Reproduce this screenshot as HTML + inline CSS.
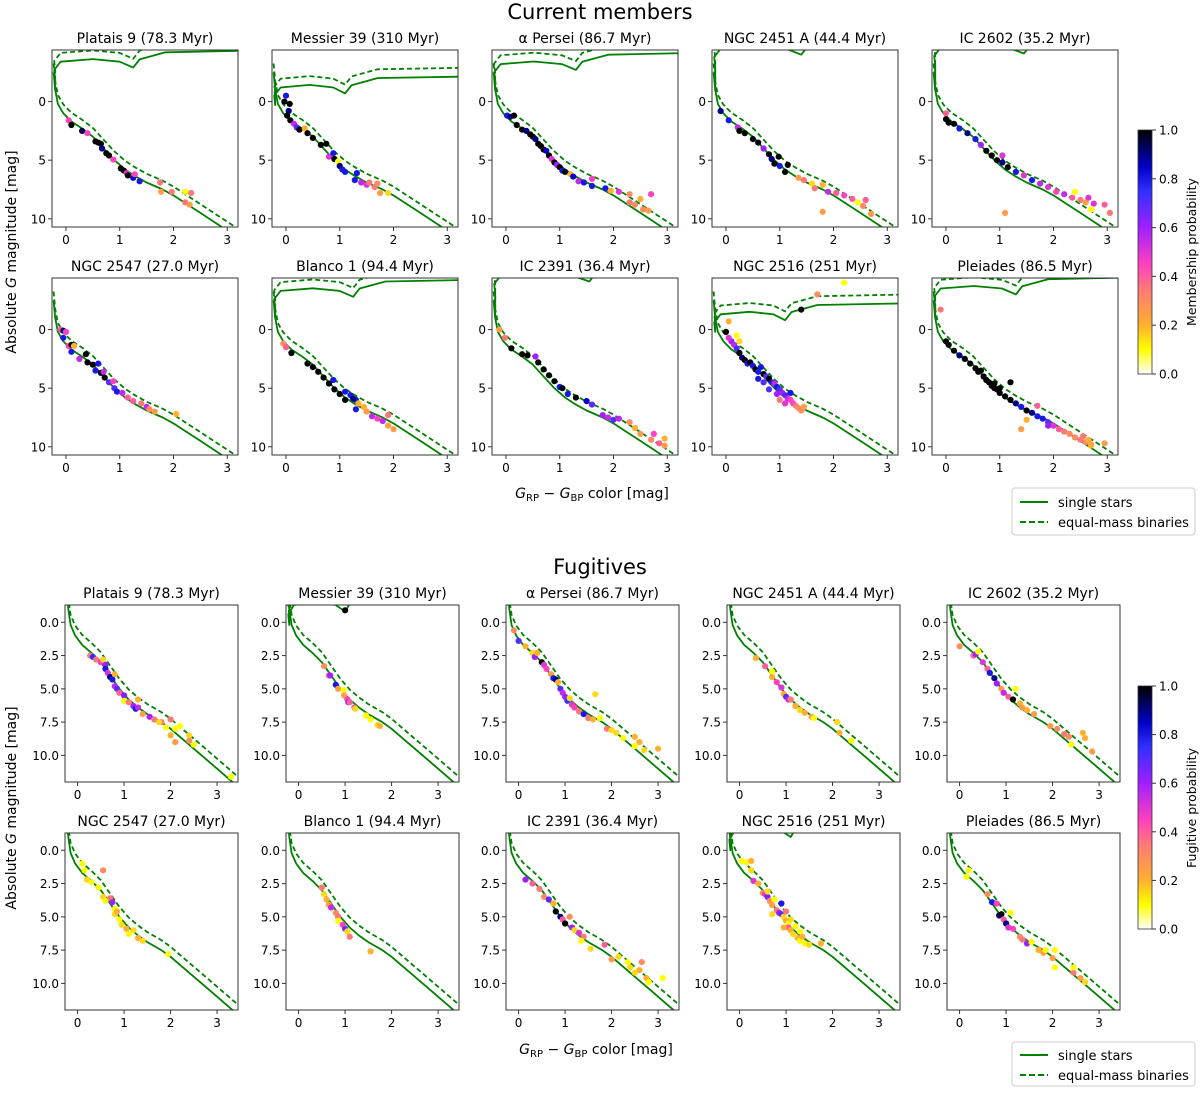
<!DOCTYPE html>
<html><head><meta charset="utf-8"><style>
html,body{margin:0;padding:0;background:#fff;}
svg text{font-family:"DejaVu Sans","Liberation Sans",sans-serif;fill:#000;}
</style></head><body>
<svg id="fig" xmlns="http://www.w3.org/2000/svg" width="1200" height="1089" viewBox="0 0 1200 1089">
<defs>
<linearGradient id="cmap" x1="0" y1="1" x2="0" y2="0">
<stop offset="0" stop-color="#ffffff"/><stop offset="0.1" stop-color="#ffff00"/><stop offset="0.2" stop-color="#ffb030"/>
<stop offset="0.35" stop-color="#ff7878"/><stop offset="0.45" stop-color="#ff40c0"/><stop offset="0.6" stop-color="#a020ff"/>
<stop offset="0.75" stop-color="#3030ff"/><stop offset="0.85" stop-color="#0000c8"/><stop offset="1" stop-color="#000000"/>
</linearGradient>
</defs>
<text x="600" y="19" text-anchor="middle" font-size="21">Current members</text>
<text x="600" y="574" text-anchor="middle" font-size="21">Fugitives</text>
<text transform="translate(16,252) rotate(-90)" text-anchor="middle" font-size="14">Absolute <tspan font-style="italic">G</tspan> magnitude [mag]</text>
<text transform="translate(16,808) rotate(-90)" text-anchor="middle" font-size="14">Absolute <tspan font-style="italic">G</tspan> magnitude [mag]</text>
<text x="592" y="498" text-anchor="middle" font-size="14"><tspan font-style="italic">G</tspan><tspan font-size="10" dy="3">RP</tspan><tspan dy="-3"> − </tspan><tspan font-style="italic">G</tspan><tspan font-size="10" dy="3">BP</tspan><tspan dy="-3"> color [mag]</tspan></text>
<text x="596" y="1054" text-anchor="middle" font-size="14"><tspan font-style="italic">G</tspan><tspan font-size="10" dy="3">RP</tspan><tspan dy="-3"> − </tspan><tspan font-style="italic">G</tspan><tspan font-size="10" dy="3">BP</tspan><tspan dy="-3"> color [mag]</tspan></text>
<g id="panels"></g>
<g>
<rect x="1138" y="130" width="14" height="244" fill="url(#cmap)" stroke="#333" stroke-width="0.8"/>
<text transform="translate(1196,252) rotate(-90)" text-anchor="middle" font-size="12.5">Membership probability</text>
</g>
<g>
<rect x="1138" y="686" width="14" height="243" fill="url(#cmap)" stroke="#333" stroke-width="0.8"/>
<text transform="translate(1196,808) rotate(-90)" text-anchor="middle" font-size="12.5">Fugitive probability</text>
</g>
<g id="cbticks"></g>
<g>
<rect x="1012" y="488" width="183" height="47" rx="3" fill="#fff" stroke="#ccc"/>
<line x1="1020" y1="502" x2="1048" y2="502" stroke="green" stroke-width="2"/>
<text x="1058" y="507" font-size="13">single stars</text>
<line x1="1020" y1="522" x2="1048" y2="522" stroke="green" stroke-width="2" stroke-dasharray="6,3"/>
<text x="1058" y="527" font-size="13">equal-mass binaries</text>
</g>
<g>
<rect x="1012" y="1042" width="183" height="44" rx="3" fill="#fff" stroke="#ccc"/>
<line x1="1020" y1="1055" x2="1048" y2="1055" stroke="green" stroke-width="2"/>
<text x="1058" y="1060" font-size="13">single stars</text>
<line x1="1020" y1="1075" x2="1048" y2="1075" stroke="green" stroke-width="2" stroke-dasharray="6,3"/>
<text x="1058" y="1080" font-size="13">equal-mass binaries</text>
</g>
</svg>
<script>
const titles=["Platais 9 (78.3 Myr)","Messier 39 (310 Myr)","\u03b1 Persei (86.7 Myr)","NGC 2451 A (44.4 Myr)","IC 2602 (35.2 Myr)","NGC 2547 (27.0 Myr)","Blanco 1 (94.4 Myr)","IC 2391 (36.4 Myr)","NGC 2516 (251 Myr)","Pleiades (86.5 Myr)"];
const msColor=[-0.23,-0.2,-0.15,-0.05,0.1,0.3,0.5,0.7,0.9,1.1,1.3,1.5,1.8,2.0,2.2,2.5,2.8,3.1,3.5];
const msMag=[-2.5,-1,0.2,1.0,1.7,2.3,3.0,4.0,5.0,5.8,6.4,6.9,7.5,8.0,8.6,9.5,10.4,11.3,12.5];
const binaryOffset=0.75;
const memberXTicks=[0,1,2,3];
const memberYTicks=[0,5,10];
const fugXTicks=[0,1,2,3];
const fugYTicks=[0,2.5,5,7.5,10];
const cbTicks=[0,0.2,0.4,0.6,0.8,1.0];
const memberDips=[[1.25,-2.9],[1.1,-0.7],[1.3,-2.7],[1.4,-4.0],[1.45,-4.1],null,[1.25,-2.8],[1.55,-4.1],[1.1,-0.8],[1.3,-3.0]];
const fugDips=[null,[1.0,-0.8],null,null,null,null,null,null,[1.1,-1.0],null];
const members=[
[[0.05,1.6,.45],[0.1,2,1],[0.3,2.5,.95],[0.4,2.7,.45],[0.55,3.4,1],[0.6,3.5,1],[0.65,3.6,1],[0.67,4,.9],[0.75,4.4,1],[0.8,4.6,1],[0.88,4.95,.45],[1.02,5.7,1],[1.08,5.9,1],[1.13,6.1,.5],[1.15,6.3,1],[1.25,6.5,.85],[1.28,6.2,.45],[1.37,6.8,.8],[1.75,6.9,.35],[1.77,7.7,.25],[1.97,7.7,.35],[2.22,7.7,.1],[2.33,7.8,.35],[2.22,8.6,.35],[2.3,8.8,.25]],
[[-0.03,0,1],[0,-0.5,.8],[0.07,0.2,1],[0.05,0.8,.9],[0.02,1.2,1],[0.08,1.6,1],[0.15,1.9,.55],[0.2,2.2,.7],[0.25,2.4,1],[0.35,2.3,.2],[0.4,2.7,1],[0.5,3.1,1],[0.65,3.7,1],[0.75,3.6,1],[0.8,4.7,.5],[0.88,4.4,.8],[0.9,4.9,1],[0.97,5.1,.1],[1.0,5.5,.9],[1.05,5.8,.8],[1.1,6,.8],[1.32,6.1,.8],[1.28,6.7,.8],[1.4,6.9,.55],[1.5,7.1,.5],[1.55,6.9,.35],[1.65,7.3,.35],[1.7,7,.3],[1.75,7.8,.25],[1.9,7.8,.15]],
[[0.02,1.2,.8],[0.08,1.3,.9],[0.15,1.2,1],[0.2,2,1],[0.3,2.4,1],[0.38,2.5,.9],[0.45,2.8,1],[0.5,3.0,1],[0.55,3.2,.9],[0.6,3.6,1],[0.65,3.8,1],[0.7,4.1,1],[0.75,4.2,.85],[0.8,4.6,1],[0.85,4.9,.5],[0.9,5.2,1],[0.95,5.4,.6],[1.0,5.6,1],[1.05,5.9,.8],[1.1,6.0,1],[1.2,6.2,.2],[1.25,6.4,.85],[1.35,6.8,.55],[1.45,6.9,.8],[1.6,7.2,.8],[1.6,6.6,.45],[1.85,7.4,.8],[1.95,7.6,.2],[2.1,7.7,.5],[2.3,8.6,.35],[2.3,7.9,.3],[2.4,8.8,.3],[2.5,8.3,.2],[2.55,9.2,.3],[2.7,7.9,.45],[2.65,9.3,.25]],
[[-0.1,0.8,.9],[0.05,1.6,.8],[0.22,2.2,.55],[0.25,2.5,1],[0.35,2.7,1],[0.5,3.2,1],[0.6,3.5,1],[0.7,4,.6],[0.8,4.5,1],[0.85,4.9,.9],[0.9,5.3,1],[1.0,5.5,.8],[1.1,6.0,1],[1.15,5.4,1],[0.98,4.7,1],[1.35,6.5,.25],[1.45,6.7,.35],[1.6,7,.15],[1.65,7.4,.35],[1.8,7.1,.2],[1.9,7.7,.55],[2.05,7.8,.4],[2.2,8.0,.45],[2.35,8.3,.4],[2.45,8.6,.1],[2.55,8.9,.3],[2.6,8.4,.4],[2.7,9.6,.25],[1.8,9.4,.25]],
[[0,1,.4],[0,1.5,1],[0.05,1.8,1],[0.15,1.9,1],[0.25,2.3,.8],[0.4,2.7,.9],[0.55,3.2,.8],[0.65,3.7,.6],[0.75,4.2,1],[0.85,4.6,1],[0.95,5.0,1],[1.05,5.2,.9],[1.15,5.6,1],[1.05,4.6,.5],[1.3,6.0,.8],[1.45,6.3,.5],[1.6,6.7,.8],[1.75,7.0,.55],[1.9,7.3,.5],[2.05,7.7,.45],[2.2,7.9,.55],[2.4,7.7,.1],[2.35,8.2,.4],[2.5,8.4,.35],[2.6,8.6,.25],[2.65,8.2,.5],[2.75,8.7,.5],[2.7,9.2,.1],[2.95,8.8,.4],[3.05,9.5,.35],[1.1,9.5,.25]],
[[-0.1,0,.4],[-0.05,0.1,.9],[0,0.2,.45],[-0.05,0.7,.8],[0.05,1.4,.45],[0.1,1.3,1],[0.15,1.4,.2],[0.1,1.9,.8],[0.25,2.5,.55],[0.37,2.1,1],[0.4,2.8,1],[0.5,3.0,1],[0.6,2.9,.8],[0.55,3.5,.8],[0.65,3.7,1],[0.7,3.6,.55],[0.72,4.1,1],[0.8,4.5,.7],[0.88,4.4,.45],[0.9,5.0,.7],[0.95,5.3,.8],[1.05,5.4,.55],[1.15,5.8,.4],[1.25,6.1,.4],[1.4,6.3,.35],[1.5,6.6,.55],[1.55,6.8,.3],[1.65,7.0,.25],[2.05,7.2,.2]],
[[-0.05,1.2,.3],[0,1.5,.4],[0.1,2.0,1],[0.4,2.9,1],[0.5,3.2,1],[0.6,3.6,1],[0.7,4.1,1],[0.8,4.6,1],[0.9,5.1,1],[1.0,5.5,1],[1.1,6.0,1],[0.88,4.3,.8],[1.1,5.3,.8],[1.2,5.6,.8],[1.3,6.0,.8],[1.25,5.9,.9],[1.35,6.3,.2],[1.3,6.8,.8],[1.45,6.6,.2],[1.5,7.0,.25],[1.6,7.4,.55],[1.7,7.6,.45],[1.8,7.8,.55],[1.9,7.3,.35],[1.9,8.2,.25],[2.0,8.5,.25]],
[[-0.12,0,.25],[-0.02,0.7,.35],[0.1,1.6,1],[0.3,2.1,1],[0.4,2.2,1],[0.55,2.3,.6],[0.6,2.8,1],[0.7,3.4,1],[0.8,3.9,1],[0.9,4.4,1],[1.0,4.9,.8],[1.05,5.0,1],[1.15,5.5,.8],[1.3,5.8,1],[1.5,6.1,.85],[1.6,6.4,.7],[1.8,7.3,.6],[1.9,7.5,.55],[2.0,7.7,.7],[2.1,7.6,.55],[2.3,7.9,.3],[2.4,8.4,.2],[2.5,8.9,.25],[2.7,9.4,.3],[2.75,8.9,.45],[2.85,9.7,.4],[2.95,9.9,.25],[2.95,9.3,.2]],
[[0,0.2,1],[0.05,-0.7,.2],[0.2,0.5,.1],[0.1,1.0,.6],[0.15,1.3,.55],[0.2,1.6,.7],[0.25,2.0,1],[0.3,2.4,.9],[0.35,2.6,1],[0.4,2.9,.8],[0.45,2.8,1],[0.5,3.1,.8],[0.55,3.4,1],[0.6,3.6,.8],[0.65,3.2,.8],[0.7,3.8,1],[0.75,4.0,.7],[0.8,4.2,1],[0.85,4.5,.8],[0.9,4.6,.55],[0.95,4.9,.8],[1.0,5.1,.7],[1.05,5.4,.6],[1.1,5.6,.7],[1.15,5.9,.55],[1.2,6.0,.45],[1.25,6.3,.45],[1.3,6.5,.35],[1.35,6.7,.3],[1.4,6.9,.3],[1.45,6.6,.25],[0.8,5.1,.7],[0.95,5.5,.6],[1.0,6.0,.35],[1.1,6.3,.5],[0.6,4.2,.8],[0.7,4.5,.7],[1.2,5.4,.8],[1.4,-1.7,1],[1.7,-3.0,.3],[2.2,-4.0,.1],[0.05,0.7,.5],[0.25,1.0,.15]],
[[-0.1,-1.7,.35],[0.0,1.0,1],[0.05,1.3,1],[0.15,1.8,1],[0.25,2.2,.9],[0.35,2.5,1],[0.45,2.9,1],[0.55,3.3,1],[0.6,3.6,1],[0.65,3.5,1],[0.7,4.0,1],[0.75,4.3,1],[0.8,4.5,1],[0.85,4.8,1],[0.9,4.6,1],[0.95,5.1,1],[1.0,5.4,1],[1.1,5.7,1],[1.2,6.0,1],[1.3,6.3,.9],[1.4,6.6,.8],[1.5,6.9,1],[1.6,7.1,.9],[1.7,7.4,.8],[1.8,7.6,.8],[1.9,7.9,.7],[2.0,8.2,.5],[2.1,8.5,.4],[2.2,8.7,.35],[2.3,8.9,.3],[2.4,9.2,.3],[2.5,9.4,.35],[2.6,9.6,.3],[2.7,9.8,.3],[2.95,9.7,.25],[1.2,4.5,1],[1.7,6.5,.4],[1.4,8.5,.25],[1.0,5.0,1],[0.9,5.0,1],[1.5,7.7,.2],[2.55,9.1,.35],[2.65,9.4,.2],[2.7,9.9,.2],[1.9,8.2,.6]]
];
const fugitives=[
[[0.27,2.5,.35],[0.33,2.6,.75],[0.4,2.8,.35],[0.5,3.0,.45],[0.55,2.8,.15],[0.6,3.2,.6],[0.6,3.5,.8],[0.65,3.8,.5],[0.7,4.1,.9],[0.75,4.3,.8],[0.8,3.9,.2],[0.8,4.8,.55],[0.85,5.0,.7],[0.9,5.3,.4],[1.0,5.5,.65],[1.0,5.9,.1],[1.1,6.0,.35],[1.2,6.3,.6],[1.25,6.5,.8],[1.3,6.4,.55],[1.3,5.8,.2],[1.4,6.9,.25],[1.55,7.1,.6],[1.65,7.3,.35],[1.8,7.5,.35],[1.75,7.5,.15],[1.9,7.9,.1],[2.0,7.3,.35],[2.0,8.5,.2],[2.1,8.0,.1],[2.1,9.0,.25],[2.2,7.8,.1],[2.4,8.5,.15],[2.5,9.2,.1],[2.4,8.9,.3],[3.3,11.6,.1]],
[[1.0,-0.9,1],[0.55,3.3,.3],[0.65,4.0,.35],[0.68,4.0,.6],[0.8,4.7,.8],[0.85,5.0,.25],[0.97,5.1,.1],[0.98,5.5,.25],[1.05,5.8,.45],[1.07,6.0,.6],[1.1,6.0,.4],[1.2,6.4,.4],[1.22,6.5,.15],[1.45,7.0,.1],[1.55,7.3,.1],[1.7,7.7,.15],[1.75,7.8,.2]],
[[-0.1,0.6,.3],[0,1.4,.7],[0.15,1.8,.2],[0.3,2.3,.15],[0.35,2.6,.6],[0.4,2.3,.2],[0.5,3.0,1],[0.55,3.2,.5],[0.6,3.5,.45],[0.7,3.9,.25],[0.75,4.2,.8],[0.8,4.3,.9],[0.85,4.5,.2],[0.9,5.0,.7],[0.95,5.3,.55],[1.0,5.6,.6],[1.05,5.9,.75],[1.1,5.7,.15],[1.15,6.2,.5],[1.2,6.4,.45],[1.3,6.7,.35],[1.4,6.9,.8],[1.5,7.2,.35],[1.6,7.3,.2],[1.65,5.4,.15],[1.75,7.2,.1],[1.9,8.0,.35],[2.0,8.1,.15],[2.1,8.3,.15],[2.25,8.7,.1],[2.5,8.6,.2],[2.5,9.3,.1],[2.6,9.0,.2],[2.7,9.6,.15],[3.0,9.5,.2]],
[[0.35,2.7,.2],[0.55,3.3,.4],[0.7,3.7,.1],[0.7,4.1,.2],[0.8,4.5,.45],[0.9,4.9,.5],[0.95,5.4,.2],[1.0,5.6,.7],[1.05,5.8,.55],[1.1,5.8,.35],[1.2,6.3,.2],[1.3,6.6,.15],[1.4,6.8,.2],[1.55,7.1,.25],[1.6,7.2,.1],[2.1,7.5,.15],[2.15,8.3,.2],[2.4,8.9,.1]],
[[0,1.8,.3],[0.3,2.5,.4],[0.35,2.4,.6],[0.4,2.2,.1],[0.5,3.0,.5],[0.6,3.5,.4],[0.65,3.8,.8],[0.75,4.2,.9],[0.8,4.6,.6],[0.9,5.0,.25],[0.95,5.3,.55],[1.05,5.6,.4],[1.15,5.8,1],[1.2,5.0,.1],[1.3,6.1,.2],[1.35,6.4,.25],[1.45,6.6,.2],[1.6,6.9,.25],[1.95,7.8,.25],[2.1,8.0,.3],[2.25,8.4,.35],[2.35,8.6,.3],[2.4,9.2,.1],[2.65,8.3,.2],[2.7,8.7,.2],[2.85,9.7,.25]],
[[0.1,1.0,.1],[0.15,1.5,.1],[0.2,2.2,.15],[0.3,2.4,.1],[0.45,2.8,.1],[0.55,1.5,.3],[0.55,3.5,.15],[0.6,3.8,.1],[0.7,3.6,.35],[0.75,3.9,.6],[0.8,4.4,.1],[0.8,4.8,.15],[0.85,4.6,.2],[0.9,5.2,.1],[0.95,5.6,.15],[1.05,5.9,.2],[1.1,6.3,.1],[1.2,6.0,.15],[1.3,6.6,.2],[1.4,6.8,.15],[1.95,7.8,.1]],
[[0.5,2.8,.35],[0.55,3.3,.15],[0.6,3.7,.2],[0.65,4.1,.25],[0.7,4.3,.55],[0.8,4.7,.3],[0.85,5.0,.35],[0.85,5.3,.1],[0.95,5.6,.45],[1.0,5.9,.65],[1.05,6.1,.15],[1.1,6.5,.35],[1.55,7.6,.2]],
[[0.15,2.2,.6],[0.3,2.5,.4],[0.45,2.9,.35],[0.55,3.5,.3],[0.65,3.7,.7],[0.75,4.0,.2],[0.8,4.6,1],[0.9,5.0,.9],[0.95,5.2,.4],[1.0,5.5,1],[1.1,5.0,.3],[1.15,5.8,.6],[1.2,6.0,.15],[1.3,6.2,.5],[1.4,6.5,.35],[1.35,6.8,.1],[1.55,7.4,.15],[1.85,7.1,.4],[2.0,8.2,.25],[2.15,8.0,.15],[2.35,8.4,.1],[2.4,8.8,.15],[2.5,9.2,.15],[2.6,9.0,.2],[2.65,8.4,.3],[2.75,9.6,.2],[2.8,9.9,.1],[3.1,9.6,.1]],
[[0.05,0.8,.1],[0.15,0.9,.1],[0.25,0.8,.2],[0.25,1.5,.15],[0.3,2.3,.5],[0.4,2.5,.2],[0.5,3.2,.3],[0.55,3.3,.5],[0.6,3.5,.65],[0.65,3.8,.3],[0.7,4.1,.25],[0.75,3.7,.1],[0.8,4.5,.35],[0.85,4.7,.6],[0.9,4.8,.7],[0.9,4.0,.8],[0.95,5.0,.15],[1.0,5.3,.2],[1.05,5.5,.1],[1.05,5.8,.4],[1.1,6.0,.2],[1.15,6.3,.15],[1.2,5.7,.1],[1.25,6.6,.2],[1.3,6.8,.1],[1.4,7.0,.1],[1.5,7.1,.15],[1.75,7.0,.2],[0.7,4.8,.15],[0.95,5.8,.2],[1.1,5.2,.15],[1.3,6.1,.1],[1.35,6.5,.2],[0.6,3.1,.15],[1.0,4.6,.35]],
[[0.2,1.5,.1],[0.15,2.0,.1],[0.6,3.3,.3],[0.7,3.9,.8],[0.8,4.0,.45],[0.85,4.9,.9],[0.9,4.8,1],[0.95,5.2,.4],[1.0,5.5,.9],[1.05,5.8,.5],[1.1,4.7,.1],[1.15,5.9,.45],[1.3,6.5,.3],[1.35,6.7,.35],[1.45,7.0,.6],[1.55,6.9,.1],[1.7,7.5,.2],[1.8,7.7,.25],[1.85,7.5,.1],[2.0,8.1,.25],[2.05,7.5,.1],[2.05,8.8,.1],[2.45,9.2,.35],[2.45,8.8,.1],[2.6,9.6,.25],[2.7,9.9,.15]]
];

const NS="http://www.w3.org/2000/svg";
function mk(tag,attrs,parent){const e=document.createElementNS(NS,tag);for(const k in attrs)e.setAttribute(k,attrs[k]);if(parent)parent.appendChild(e);return e;}
const stops=[[0,[255,255,255]],[0.1,[255,255,0]],[0.2,[255,176,48]],[0.35,[255,120,120]],[0.45,[255,64,192]],[0.6,[160,32,255]],[0.75,[48,48,255]],[0.85,[0,0,200]],[1,[0,0,0]]];
function cmap(p){for(let i=1;i<stops.length;i++){if(p<=stops[i][0]){const a=stops[i-1],b=stops[i];const t=(p-a[0])/(b[0]-a[0]);const c=a[1].map((v,j)=>Math.round(v+(b[1][j]-v)*t));return `rgb(${c[0]},${c[1]},${c[2]})`;}}return "#000";}
const root=document.getElementById('panels');
let clipId=0;
function panel(idx,title,L,T,W,H,xr,yr,xt,yt,ytFmt,pts,dip,tag){
  const g=mk('g',{},root);
  
  
  const sx=v=>L+(v-xr[0])/(xr[1]-xr[0])*W;
  const sy=v=>T+(v-yr[0])/(yr[1]-yr[0])*H;
  const cid='c'+(clipId++);
  const cp=mk('clipPath',{id:cid},g);mk('rect',{x:L,y:T,width:W,height:H},cp);
  const t=mk('text',{x:L+W/2,y:T-7,'text-anchor':'middle','font-size':'14'},g);
  t.textContent=title;
  
  
  const cg=mk('g',{'clip-path':`url(#${cid})`},g);
  // isochrones
  const single=msColor.map((c,i)=>[c,msMag[i]]);
  const lines=[single];
  if(dip){const dx=dip[0],dy=dip[1];
    lines.push([[-0.2,-1],[-0.2,dy+1.0],[-0.22,dy+0.2],[-0.1,dy-0.5],[0.4*dx,dy-0.72],[0.8*dx,dy-0.5],[dx,dy],[dx+0.12,dy-0.7],[dx+0.6,dy-1.3],[3.5,dy-1.45]]);}
  lines.forEach(ln=>{
    const d1=ln.map((p,i)=>(i?'L':'M')+sx(p[0]).toFixed(1)+','+sy(p[1]).toFixed(1)).join('');
    const d2=ln.map((p,i)=>(i?'L':'M')+sx(p[0]).toFixed(1)+','+sy(p[1]-binaryOffset).toFixed(1)).join('');
    const a=mk('path',{d:d1,fill:'none',stroke:'green','stroke-width':'1.8','stroke-linejoin':'round'},cg);
    
    
    const b=mk('path',{d:d2,fill:'none',stroke:'green','stroke-width':'1.8','stroke-dasharray':'5,3'},cg);
    
    
  });
  pts.forEach(p=>{
    const c=mk('circle',{cx:sx(p[0]).toFixed(1),cy:sy(p[1]).toFixed(1),r:3.1,fill:cmap(p[2])},cg);
    
    
  });
  mk('rect',{x:L,y:T,width:W,height:H,fill:'none',stroke:'#333','stroke-width':'1'},g);
  xt.forEach(v=>{const x=sx(v);mk('line',{x1:x,x2:x,y1:T+H,y2:T+H+4,stroke:'#333'},g);
    const tx=mk('text',{x:x,y:T+H+17,'text-anchor':'middle','font-size':'12'},g);tx.textContent=v;
    
    });
  yt.forEach(v=>{const y=sy(v);mk('line',{x1:L-4,x2:L,y1:y,y2:y,stroke:'#333'},g);
    const tx=mk('text',{x:L-6,y:y+4.5,'text-anchor':'end','font-size':'12'},g);tx.textContent=ytFmt(v);
    
    });
}
const mCols=[52,272,492,712,932],mRows=[50,278];
const fCols=[65,286,506,727,947],fRows=[605,833];
for(let i=0;i<10;i++){
  panel(i,titles[i],mCols[i%5],mRows[Math.floor(i/5)],186,177,[-0.26,3.2],[-4.4,10.7],memberXTicks,memberYTicks,v=>String(v),members[i],memberDips[i],'members');
  panel(i,titles[i],fCols[i%5],fRows[Math.floor(i/5)],173,177,[-0.27,3.45],[-1.3,12.0],fugXTicks,fugYTicks,v=>v.toFixed(1),fugitives[i],fugDips[i],'fugitives');
}
const cbg=document.getElementById('cbticks');
[[130,244],[686,243]].forEach(([top,h])=>{
  cbTicks.forEach(v=>{const y=top+h-v*h;
    mk('line',{x1:1152,x2:1156,y1:y,y2:y,stroke:'#333'},cbg);
    const t=mk('text',{x:1159,y:y+4.5,'font-size':'12'},cbg);t.textContent=v.toFixed(1);
    
    });
});
</script>
</body></html>
